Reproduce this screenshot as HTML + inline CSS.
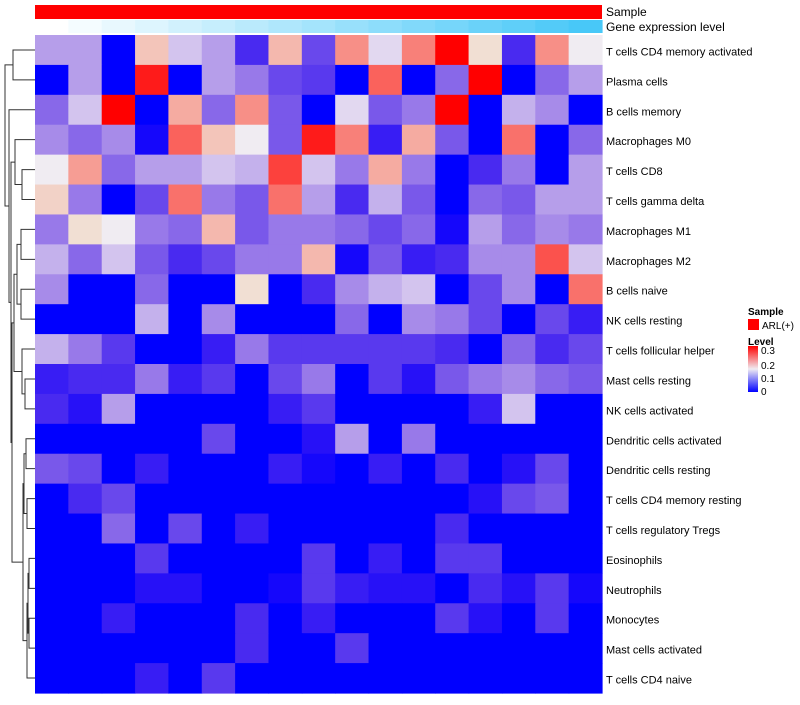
<!DOCTYPE html>
<html><head><meta charset="utf-8"><style>
body{margin:0;background:#fff;width:800px;height:700px;overflow:hidden}
svg{font-family:"Liberation Sans",sans-serif}
</style></head><body>
<svg id="chart" width="800" height="700">
<g id="dend" stroke="#333" fill="none" stroke-width="1"></g>
<g id="annot"></g>
<g id="cells"></g>
<g id="labels" font-size="11" fill="#000" style="white-space:pre"></g>
<text x="606" y="16" font-size="12">Sample</text>
<text x="606" y="31" font-size="12">Gene expression level</text>
<g>
<text x="748" y="315" font-size="10" font-weight="bold">Sample</text>
<rect x="748" y="319" width="11" height="11" fill="#ff0000"/>
<text x="762" y="329" font-size="10">ARL(+)</text>
<text x="748" y="345" font-size="10" font-weight="bold">Level</text>
<defs><linearGradient id="lg" x1="0" y1="1" x2="0" y2="0"><stop offset="0" stop-color="#0000ff"/><stop offset="0.5" stop-color="#f0ecf2"/><stop offset="1" stop-color="#ff0000"/></linearGradient></defs>
<rect x="748" y="346" width="10" height="46" fill="url(#lg)"/>
<text x="761" y="354" font-size="10">0.3</text>
<text x="761" y="369" font-size="10">0.2</text>
<text x="761" y="382" font-size="10">0.1</text>
<text x="761" y="395" font-size="10">0</text>
</g>
</svg>
<script>
const rowLabels=["T cells CD4 memory activated","Plasma cells","B cells memory","Macrophages M0","T cells CD8","T cells gamma delta","Macrophages M1","Macrophages M2","B cells naive","NK cells resting","T cells follicular helper","Mast cells resting","NK cells activated","Dendritic cells activated","Dendritic cells resting","T cells CD4 memory resting","T cells regulatory  Tregs","Eosinophils","Neutrophils","Monocytes","Mast cells activated","T cells CD4 naive"];
const geneLevels=[0,1,2,3,4,5,6,7,8,9,10,11,12,13,14,15,16];
const r01=[0.11,0.11,0,0.18,0.13,0.11,0.04,0.19,0.06,0.22,0.14,0.23,0.3,0.16,0.04,0.22,0.15];
const r02=[0,0.11,0,0.29,0,0.11,0.09,0.06,0.05,0,0.25,0,0.08,0.3,0,0.08,0.11];
const r03=[0.08,0.13,0.3,0,0.2,0.08,0.22,0.07,0,0.14,0.07,0.09,0.3,0,0.12,0.1,0];
const r04=[0.1,0.08,0.1,0.01,0.25,0.18,0.15,0.07,0.29,0.23,0.03,0.2,0.07,0,0.24,0,0.08];
const r05=[0.15,0.21,0.08,0.11,0.11,0.13,0.12,0.27,0.13,0.09,0.2,0.09,0,0.04,0.09,0,0.11];
const r06=[0.17,0.09,0,0.06,0.24,0.09,0.07,0.24,0.11,0.04,0.12,0.07,0,0.08,0.07,0.11,0.11];
const r07=[0.09,0.16,0.15,0.09,0.08,0.19,0.07,0.09,0.09,0.08,0.06,0.08,0.01,0.11,0.08,0.1,0.09];
const r08=[0.12,0.08,0.13,0.07,0.04,0.06,0.09,0.09,0.19,0.01,0.07,0.03,0.04,0.1,0.1,0.26,0.13];
const r09=[0.1,0,0,0.08,0,0,0.16,0,0.04,0.1,0.12,0.13,0,0.06,0.1,0,0.24];
const r10=[0,0,0,0.12,0,0.1,0,0,0,0.08,0,0.1,0.09,0.06,0,0.06,0.03];
const r11=[0.12,0.09,0.05,0,0,0.03,0.09,0.05,0.05,0.05,0.05,0.05,0.04,0,0.08,0.04,0.06];
const r12=[0.03,0.04,0.04,0.09,0.03,0.05,0,0.06,0.09,0,0.05,0.02,0.07,0.09,0.1,0.08,0.07];
const r13=[0.04,0.02,0.11,0,0,0,0,0.03,0.05,0,0,0,0,0.03,0.13,0,0];
const r14=[0,0,0,0,0,0.06,0,0,0.02,0.11,0,0.09,0,0,0,0,0];
const r15=[0.07,0.06,0,0.03,0,0,0,0.03,0.01,0,0.03,0,0.04,0,0.02,0.06,0];
const r16=[0,0.04,0.06,0,0,0,0,0,0,0,0,0,0,0.02,0.06,0.07,0];
const r17=[0,0,0.08,0,0.06,0,0.03,0,0,0,0,0,0.04,0,0,0,0];
const r18=[0,0,0,0.05,0,0,0,0,0.05,0,0.03,0,0.05,0.05,0,0,0];
const r19=[0,0,0,0.02,0.02,0,0,0.01,0.05,0.03,0.02,0.02,0,0.04,0.02,0.05,0.01];
const r20=[0,0,0.03,0,0,0,0.04,0,0.03,0,0,0,0.05,0.02,0,0.05,0];
const r21=[0,0,0,0,0,0,0.04,0,0,0.05,0,0,0,0,0,0,0];
const r22=[0,0,0,0.03,0,0.05,0,0,0,0,0,0,0,0,0,0,0];
const matrix=[r01,r02,r03,r04,r05,r06,r07,r08,r09,r10,r11,r12,r13,r14,r15,r16,r17,r18,r19,r20,r21,r22];

const X0=35,X1=602,Y0=35,Y1=693;
const nC=r01.length,nR=matrix.length;
const cw=(X1-X0)/nC,rh=(Y1-Y0)/nR;
const xPos=j=>X0+j*cw, yPos=i=>Y0+i*rh;
function color(v){
  let r,g,b;
  if(v<=0.15){const t=Math.max(0,v/0.15);r=240*Math.pow(t,0.9);g=236*Math.pow(t,1.3);b=255-13*t-15*Math.sin(Math.PI*t);}
  else{const t=Math.min(1,(v-0.15)/0.15);r=240+15*t;g=236*Math.pow(1-t,0.8);b=242*Math.pow(1-t,0.8)*0.92;}
  return `rgb(${Math.round(r)},${Math.round(g)},${Math.round(b)})`;
}
const NS="http://www.w3.org/2000/svg";
const cells=document.getElementById('cells');
matrix.forEach((row,i)=>row.forEach((v,j)=>{
  const el=document.createElementNS(NS,'rect');
  el.setAttribute('x',xPos(j));el.setAttribute('y',yPos(i));
  el.setAttribute('width',cw+0.6);el.setAttribute('height',rh+0.6);
  el.setAttribute('fill',color(v));
  
  
  cells.appendChild(el);
}));
const labels=document.getElementById('labels');
rowLabels.forEach((t,i)=>{
  const el=document.createElementNS(NS,'text');
  el.setAttribute('x',606);el.setAttribute('y',yPos(i)+rh/2+5.5);
  el.textContent=t;
  
  
  labels.appendChild(el);
});
const annot=document.getElementById('annot');
const sb=document.createElementNS(NS,'rect');
sb.setAttribute('x',X0);sb.setAttribute('y',5);sb.setAttribute('width',X1-X0);sb.setAttribute('height',14);sb.setAttribute('fill','#ff0000');


annot.appendChild(sb);
const gmax=Math.max(...geneLevels);
geneLevels.forEach((g,j)=>{
  const t=g/gmax;
  const el=document.createElementNS(NS,'rect');
  el.setAttribute('x',xPos(j));el.setAttribute('y',20);el.setAttribute('width',cw+0.6);el.setAttribute('height',13);
  el.setAttribute('fill',`rgb(${Math.round(255-183*t)},${Math.round(255-55*t)},${Math.round(255-7*t)})`);
  
  
  annot.appendChild(el);
});
const yc=i=>yPos(i)+rh/2;
const segs=[];
function join(yA,xA,yB,xB,xJ){segs.push(`M${xA},${yA}H${xJ}V${yB}H${xB}`);return [(yA+yB)/2,xJ];}
let a=join(yc(0),35,yc(1),35,13);
let b=join(yc(4),35,yc(5),35,22);
let c=join(yc(3),35,b[0],b[1],15);
let d=join(yc(6),35,yc(7),35,21);
let e=join(yc(8),35,yc(9),35,21);
let f=join(d[0],d[1],e[0],e[1],17);
let g=join(yc(11),35,yc(12),35,25);
let h=join(yc(10),35,g[0],g[1],22);
let k=join(f[0],f[1],h[0],h[1],14);
let l=join(yc(13),35,yc(14),35,26);
let m=join(yc(15),35,yc(16),35,27);
let n=join(l[0],l[1],m[0],m[1],24);
let o=join(yc(17),35,yc(18),35,29);
let p=join(yc(19),35,yc(20),35,29);
let q=join(o[0],o[1],p[0],p[1],28);
let q2=join(q[0],q[1],yc(21),35,27);
let r=join(n[0],n[1],q2[0],q2[1],23);
let s=join(k[0],k[1],r[0],r[1],12);
let t2=join(c[0],c[1],s[0],s[1],11);
let u=join(yc(2),35,t2[0],t2[1],9);
join(a[0],a[1],u[0],u[1],5);
const dend=document.getElementById('dend');
segs.forEach(dd=>{
  const el=document.createElementNS(NS,'path');
  el.setAttribute('d',dd);
  
  
  dend.appendChild(el);
});
</script>
</body></html>
